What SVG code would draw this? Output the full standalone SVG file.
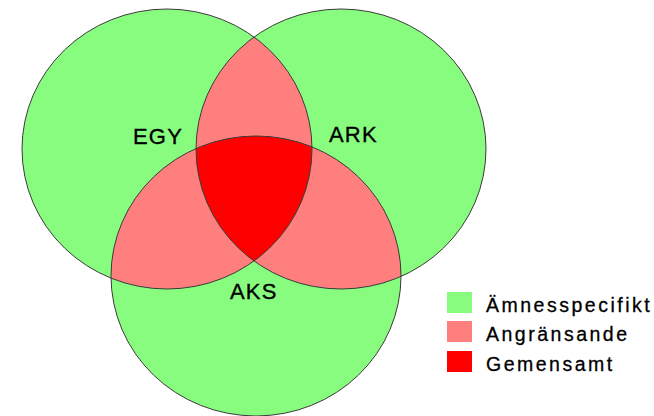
<svg xmlns="http://www.w3.org/2000/svg" width="654" height="416" viewBox="0 0 654 416">
  <style>
    .green { fill: #88fc7f; }
    .pink { fill: #ff7f7f; }
    .red { fill: #ff0000; }
    .outline { fill: none; stroke: #3a3a3a; stroke-width: 1; }
    .label { font-family: "Liberation Sans", Arial, sans-serif; font-size: 22px; fill: #000; stroke: #000; stroke-width: 0.35; letter-spacing: 1.2px; }
    .legend { font-family: "Liberation Sans", Arial, sans-serif; font-size: 19.5px; fill: #000; stroke: #000; stroke-width: 0.3; letter-spacing: 2.5px; }
  </style>
  <defs>
    <ellipse id="eL" cx="167" cy="149" rx="145" ry="140"/>
    <ellipse id="eR" cx="341" cy="149" rx="145" ry="140"/>
    <ellipse id="eB" cx="256" cy="276" rx="145" ry="140"/>
    <clipPath id="cL"><use href="#eL"/></clipPath>
    <clipPath id="cR"><use href="#eR"/></clipPath>
  </defs>
  <g id="fills">
    <use href="#eL" class="green"/>
    <use href="#eR" class="green"/>
    <use href="#eB" class="green"/>
    <g clip-path="url(#cL)">
      <use href="#eR" class="pink"/>
      <use href="#eB" class="pink"/>
    </g>
    <g clip-path="url(#cR)">
      <use href="#eB" class="pink"/>
    </g>
    <g clip-path="url(#cL)">
      <g clip-path="url(#cR)">
        <use href="#eB" class="red"/>
      </g>
    </g>
  </g>
  <g id="node-egy">
    <use href="#eL" class="outline"/>
    <text class="label" x="133" y="144">EGY</text>
  </g>
  <g id="node-ark">
    <use href="#eR" class="outline"/>
    <text class="label" x="329" y="142">ARK</text>
  </g>
  <g id="node-aks">
    <use href="#eB" class="outline"/>
    <text class="label" x="230" y="299">AKS</text>
  </g>
  <g id="legend">
    <rect x="447" y="292" width="25" height="21" class="green"/>
    <text class="legend" x="486" y="312">Ämnesspecifikt</text>
    <rect x="447" y="321" width="25" height="21" class="pink"/>
    <text class="legend" x="486" y="341">Angränsande</text>
    <rect x="447" y="351" width="25" height="21" class="red"/>
    <text class="legend" x="486" y="371">Gemensamt</text>
  </g>
</svg>
